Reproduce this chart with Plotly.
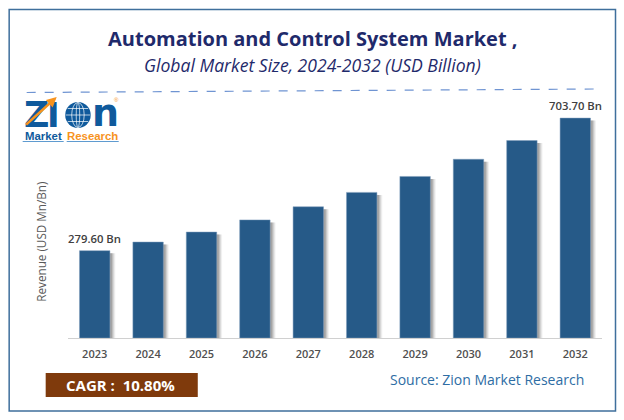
import plotly.graph_objects as go

years = ["2023", "2024", "2025", "2026", "2027", "2028", "2029", "2030", "2031", "2032"]
revenue = [279.6, 307, 339, 378, 420, 466, 517, 572, 632, 703.7]
first_label = "279.60 Bn"
last_label = "703.70 Bn"
y_title = "Revenue (USD Mn/Bn)"
title_text = "Automation and Control System Market ,"
subtitle_text = "Global Market Size, 2024-2032 (USD Billion)"
cagr_text = "CAGR :  10.80%"
source_text = "Source: Zion Market Research"

W, H = 624, 420
ML, MR, MT, MB = 68.3, 22, 88, 82
BAR_W = 0.57
BLUE = "#265a88"
FONT = "Open Sans"
LOGO_BLUE = "#0f5a9c"
LOGO_ORANGE = "#f7931e"


def px(x):
    return (x - ML) / (W - ML - MR)


def py(y):
    return 1 - (y - MT) / (H - MT - MB)


fig = go.Figure()

# soft shadow to the right of every bar
for shift, alpha in [(0.1, 0.08), (0.08, 0.12), (0.06, 0.17), (0.04, 0.24)]:
    fig.add_trace(go.Bar(
        x=years, y=[v - 8 for v in revenue], width=BAR_W, offset=-BAR_W / 2 + shift,
        marker=dict(color=f"rgba(70,70,70,{alpha})", line_width=0),
        hoverinfo="skip", showlegend=False,
    ))

fig.add_trace(go.Bar(
    x=years, y=revenue, width=BAR_W, offset=-BAR_W / 2,
    marker=dict(color=BLUE, line=dict(color="#7f9dbb", width=0.5)),
    showlegend=False,
))

for idx, label in [(0, first_label), (len(years) - 1, last_label)]:
    fig.add_annotation(
        xref="x", yref="y", x=idx, y=revenue[idx], text=label, showarrow=False,
        yanchor="bottom", yshift=3,
        font=dict(family=FONT, size=11.3, color="#404040", weight=600),
    )


def ring(x0, x1, y0, y1, width=0.7):
    return dict(type="circle", xref="paper", yref="paper", x0=px(x0), x1=px(x1), y0=py(y0), y1=py(y1),
                line=dict(color="white", width=width), fillcolor="rgba(0,0,0,0)")


def hline(x0, x1, y, color="white", width=0.7):
    return dict(type="line", xref="paper", yref="paper", x0=px(x0), x1=px(x1), y0=py(y), y1=py(y),
                line=dict(color=color, width=width))


shapes = [
    dict(type="rect", xref="paper", yref="paper", x0=px(9.5), x1=px(615.5), y0=py(9.5), y1=py(411),
         line=dict(color="#3f6f9c", width=1.5), fillcolor="rgba(0,0,0,0)"),
    dict(type="line", xref="paper", yref="paper", x0=px(27), x1=px(596), y0=py(92.5), y1=py(89),
         line=dict(color="#6f94d2", width=1.2, dash="dash")),
    dict(type="rect", xref="paper", yref="paper", x0=px(46), x1=px(198), y0=py(373), y1=py(397),
         line_width=0, fillcolor="#7f3a0c"),
    # logo: globe with grid
    dict(type="circle", xref="paper", yref="paper", x0=px(65.5), x1=px(91), y0=py(102), y1=py(128),
         line_width=0, fillcolor=LOGO_BLUE),
    ring(72, 84.5, 102.5, 127.5),
    ring(76.5, 80, 102.5, 127.5),
    hline(66, 90.5, 115),
    hline(68, 88.5, 108.5),
    hline(68, 88.5, 121.5),
    # logo: underline
    hline(23, 64, 141.5, "#5f9bd0", 1),
    hline(67, 119, 141.5, "#5f9bd0", 1),
]


def note(x, y, text, size, color, anchor="center", bold=False, italic=False, angle=0, family=FONT):
    fig.add_annotation(
        xref="paper", yref="paper", x=px(x), y=py(y), text=f"<b>{text}</b>" if bold else text,
        showarrow=False, xanchor=anchor, yanchor="middle", textangle=angle,
        font=dict(family=family, size=size, color=color,
                  style="italic" if italic else "normal"),
    )


note(313, 38, title_text, 20, "#1f2a6b", bold=True)
note(313, 65.5, subtitle_text, 17.6, "#1f2a6b", italic=True)
note(120.5, 385, cagr_text, 15, "#ffffff", bold=True)
note(487.5, 379, source_text, 14, "#2e6da4")
note(41, 242, y_title, 11.7, "#595959", angle=-90)

# logo lettering
note(36.5, 115, "Z", 35, LOGO_BLUE, bold=True, family="DejaVu Sans")
note(54, 115, "I", 34, LOGO_BLUE, bold=True, family="DejaVu Sans")
note(106, 113, "n", 38, LOGO_BLUE, bold=True, family="DejaVu Sans")
note(44, 135.5, "Market", 11.4, LOGO_BLUE, bold=True, family="Liberation Sans")
note(92.5, 135.5, "Research", 11.4, LOGO_ORANGE, bold=True, family="Liberation Sans")
note(117, 100, "®", 6, LOGO_ORANGE, family="Liberation Sans")

fig.add_annotation(
    xref="paper", yref="paper", axref="pixel", ayref="pixel",
    x=px(57), y=py(97), ax=-32, ay=29, text="", showarrow=True,
    arrowhead=2, arrowsize=0.8, arrowwidth=2.5, arrowcolor=LOGO_ORANGE,
)

fig.update_layout(
    width=W, height=H, autosize=False,
    margin=dict(l=ML, r=MR, t=MT, b=MB),
    paper_bgcolor="white", plot_bgcolor="white",
    barmode="overlay", shapes=shapes,
    font=dict(family=FONT),
    xaxis=dict(type="category", range=[-0.5, len(years) - 0.5], showgrid=False,
               ticks="outside", ticklen=6, tickcolor="rgba(0,0,0,0)",
               showline=True, linecolor="#d0d0d0", linewidth=1,
               tickfont=dict(family=FONT, size=11, color="#505050", weight=600)),
    yaxis=dict(range=[0, 800], visible=False),
)

fig.write_html("out.html", config=dict(displayModeBar=False),
               post_script="document.body.style.margin='0';")
